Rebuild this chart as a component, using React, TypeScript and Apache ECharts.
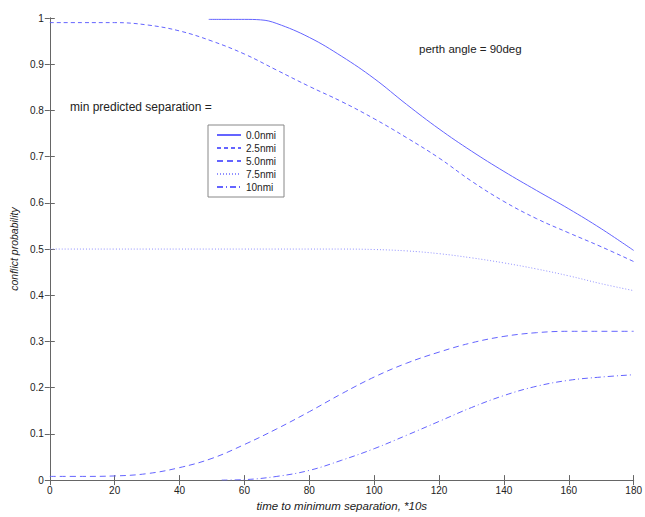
import React, { useEffect, useRef } from "react";
import * as echarts from "echarts";

const times = [0, 10, 20, 30, 40, 50, 60, 70, 80, 90, 100, 110, 120, 130, 140, 150, 160, 170, 180];
const times00 = [49, 60, 65, 70, 80, 90, 100, 110, 120, 130, 140, 150, 160, 170, 180];
const sep00 = [0.997, 0.997, 0.996, 0.988, 0.958, 0.917, 0.869, 0.813, 0.76, 0.712, 0.668, 0.627, 0.587, 0.544, 0.497];
const sep25 = [0.99, 0.99, 0.99, 0.985, 0.972, 0.95, 0.922, 0.887, 0.852, 0.819, 0.782, 0.741, 0.697, 0.647, 0.603, 0.566, 0.535, 0.505, 0.473];
const sep50 = [0.008, 0.008, 0.009, 0.014, 0.027, 0.047, 0.077, 0.111, 0.148, 0.187, 0.223, 0.253, 0.277, 0.297, 0.311, 0.319, 0.322, 0.322, 0.322];
const sep75 = [0.5, 0.5, 0.5, 0.5, 0.5, 0.5, 0.5, 0.5, 0.5, 0.5, 0.499, 0.496, 0.49, 0.481, 0.47, 0.457, 0.442, 0.425, 0.41];
const times10 = [53, 60, 70, 80, 90, 100, 110, 120, 130, 140, 150, 160, 170, 180];
const sep10 = [0, 0.001, 0.008, 0.021, 0.043, 0.068, 0.097, 0.127, 0.157, 0.183, 0.203, 0.216, 0.223, 0.228];
const seriesNames = ["0.0nmi", "2.5nmi", "5.0nmi", "7.5nmi", "10nmi"];

const FONT = "Liberation Sans";

export default function App() {
  const ref = useRef<HTMLDivElement>(null);
  useEffect(() => {
    document.body.style.margin = "0";
    const chart = echarts.init(ref.current!, null, { renderer: "svg" });
    const pair = (ts: number[], vals: number[]) => ts.map((t, i) => [t, vals[i]]);
    const styles: any[] = [
      { type: "solid", color: "#6464ff", width: 1 },
      { type: [4, 3], color: "#6464ff", width: 1 },
      { type: [6, 4], color: "#6464ff", width: 1 },
      { type: [1, 2], color: "#9090ff", width: 1 },
      { type: [6, 3, 1, 3], color: "#6464ff", width: 1 },
    ];
    const allData = [
      pair(times00, sep00),
      pair(times, sep25),
      pair(times, sep50),
      pair(times, sep75),
      pair(times10, sep10),
    ];
    const axisLine = { show: true, lineStyle: { color: "#666", width: 1 } };
    const tick = { show: true, inside: true, length: 5, lineStyle: { color: "#666" } };
    chart.setOption({
      animation: false,
      backgroundColor: "#fff",
      textStyle: { fontFamily: FONT },
      grid: { left: 48, right: 9, top: 18, bottom: 34, show: false },
      legend: {
        data: seriesNames,
        orient: "vertical",
        left: 208,
        top: 125,
        padding: [5, 8, 5, 8],
        itemGap: 3,
        itemWidth: 24,
        itemHeight: 12,
        borderColor: "#888",
        borderWidth: 1,
        backgroundColor: "#fff",
        itemStyle: { opacity: 0 },
        textStyle: { fontFamily: FONT, fontSize: 10, color: "#222" },
      },
      xAxis: [
        {
          type: "value",
          min: 0,
          max: 180,
          interval: 20,
          name: "time to minimum separation, *10s",
          nameLocation: "middle",
          nameGap: 19,
          nameTextStyle: { fontFamily: FONT, fontSize: 11.5, fontStyle: "italic", color: "#222" },
          axisLine,
          axisTick: tick,
          axisLabel: { fontFamily: FONT, fontSize: 10, color: "#222", margin: 5 },
          splitLine: { show: false },
        },
        {
          type: "value",
          position: "top",
          min: 0,
          max: 180,
          interval: 20,
          axisLine,
          axisTick: tick,
          axisLabel: { show: false },
          splitLine: { show: false },
        },
      ],
      yAxis: [
        {
          type: "value",
          min: 0,
          max: 1,
          interval: 0.1,
          name: "conflict probability",
          nameLocation: "middle",
          nameGap: 28,
          nameTextStyle: { fontFamily: FONT, fontSize: 10.5, fontStyle: "italic", color: "#222" },
          axisLine,
          axisTick: tick,
          axisLabel: {
            fontFamily: FONT,
            fontSize: 10,
            color: "#222",
            margin: 6,
            formatter: (v: number) => (v === 0 ? "0" : v === 1 ? "1" : v.toFixed(1)),
          },
          splitLine: { show: false },
        },
        {
          type: "value",
          position: "right",
          min: 0,
          max: 1,
          interval: 0.1,
          axisLine,
          axisTick: tick,
          axisLabel: { show: false },
          splitLine: { show: false },
        },
      ],
      series: seriesNames.map((name, i) => ({
        name,
        type: "line",
        data: allData[i],
        smooth: 0.4,
        showSymbol: false,
        symbol: "none",
        lineStyle: styles[i],
        itemStyle: { color: styles[i].color },
        z: 3,
      })),
      graphic: [
        {
          type: "text",
          left: 70,
          top: 101,
          style: { text: "min predicted separation =", fontFamily: FONT, fontSize: 12, fill: "#222" },
        },
        {
          type: "text",
          left: 419,
          top: 43,
          style: { text: "perth angle = 90deg", fontFamily: FONT, fontSize: 11.5, fill: "#222" },
        },
      ],
    });
    return () => chart.dispose();
  }, []);
  return <div ref={ref} style={{ width: 645, height: 517 }} />;
}
